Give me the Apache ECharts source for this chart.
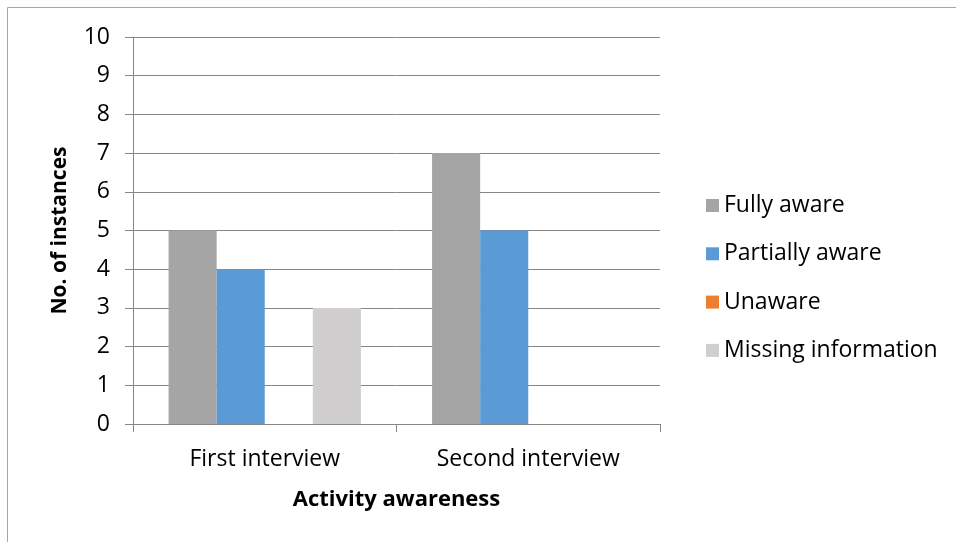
<!DOCTYPE html>
<html>
<head>
<meta charset="utf-8">
<script src="https://cdn.jsdelivr.net/npm/echarts@6/dist/echarts.min.js"></script>
<style>
  html, body { margin: 0; padding: 0; background: #fff; }
  #chart { width: 956px; height: 542px; }
</style>
</head>
<body>
<div id="chart"></div>
<script>
// Interview rounds on the category axis
const categories = ['First interview', 'Second interview'];

// Number of instances per awareness level
const fullyAware = [5, 7];
const partiallyAware = [4, 5];
const unaware = [0, 0];
const missingInformation = [3, 0];

const seriesNames = ['Fully aware', 'Partially aware', 'Unaware', 'Missing information'];
const seriesValues = [fullyAware, partiallyAware, unaware, missingInformation];
const seriesColors = ['#A5A5A5', '#5B9BD5', '#ED7D31', '#D0CECE'];

const FONT = 'Open Sans';
const chart = echarts.init(document.getElementById('chart'), null, { renderer: 'canvas' });

chart.setOption({
  animation: false,
  backgroundColor: '#ffffff',
  textStyle: { fontFamily: FONT },
  graphic: [
    // chart area frame (top and left edges)
    { type: 'line', shape: { x1: 7.5, y1: 7.5, x2: 956, y2: 7.5 }, style: { stroke: '#A6A6A6', lineWidth: 1 } },
    { type: 'line', shape: { x1: 7.5, y1: 7.5, x2: 7.5, y2: 542 }, style: { stroke: '#A6A6A6', lineWidth: 1 } }
  ],
  grid: { left: 133, right: 296, top: 37, bottom: 118, containLabel: false },
  legend: {
    orient: 'vertical',
    left: 701,
    top: 189,
    itemWidth: 13,
    itemHeight: 13,
    itemGap: 25.3,
    icon: 'rect',
    textStyle: { fontFamily: FONT, fontSize: 23, color: '#000', padding: [0, 0, 0, 0] },
    data: seriesNames
  },
  xAxis: {
    type: 'category',
    data: categories,
    name: 'Activity awareness',
    nameLocation: 'middle',
    nameGap: 65,
    nameTextStyle: { fontFamily: FONT, fontSize: 22, fontWeight: 'bold', color: '#000' },
    axisLine: { lineStyle: { color: '#868686', width: 1 } },
    axisTick: { show: true, length: 8, alignWithLabel: false, lineStyle: { color: '#868686' } },
    axisLabel: { fontFamily: FONT, fontSize: 23, color: '#000', margin: 24 }
  },
  yAxis: {
    type: 'value',
    min: 0,
    max: 10,
    interval: 1,
    name: 'No. of instances',
    nameLocation: 'middle',
    nameGap: 62,
    nameTextStyle: { fontFamily: FONT, fontSize: 21, fontWeight: 'bold', color: '#000' },
    axisLine: { show: true, lineStyle: { color: '#868686', width: 1 } },
    axisTick: { show: true, length: 8, inside: false, lineStyle: { color: '#868686' } },
    axisLabel: { fontFamily: FONT, fontSize: 23, color: '#000', margin: 23 },
    splitLine: { show: true, lineStyle: { color: '#868686', width: 1 } }
  },
  series: seriesNames.map((name, i) => ({
    name: name,
    type: 'bar',
    data: seriesValues[i],
    barGap: '0%',
    barCategoryGap: '27%',
    itemStyle: { color: seriesColors[i] }
  }))
});
</script>
</body>
</html>
